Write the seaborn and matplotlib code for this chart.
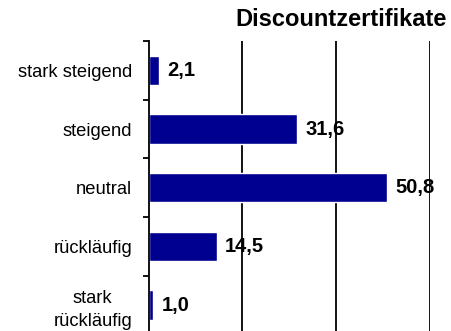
import matplotlib
matplotlib.use("Agg")
import matplotlib.pyplot as plt
import seaborn as sns
import pandas as pd
from matplotlib.ticker import FixedLocator

categories = ["stark steigend", "steigend", "neutral", "rückläufig", "stark\nrückläufig"]
values = [2.1, 31.6, 50.8, 14.5, 1.0]
value_labels = ["2,1", "31,6", "50,8", "14,5", "1,0"]
title = "Discountzertifikate"

sns.set_theme(style="white")
plt.rcParams["font.family"] = ["Liberation Sans", "DejaVu Sans"]

df = pd.DataFrame({"Kategorie": categories, "Wert": values})

fig = plt.figure(figsize=(4.52, 3.31), dpi=100)
W, H = 452, 331
left, right, top, bottom = 148.7, 430, 41, 334.5
ax = fig.add_axes([left / W, 1 - bottom / H, (right - left) / W, (bottom - top) / H])

sns.barplot(data=df, x="Wert", y="Kategorie", color="#000090", width=0.5,
            saturation=1, ax=ax, orient="h")

ax.set_xlim(0, 60)
ax.set_ylim(4.5, -0.5)
ax.set_xlabel("")
ax.set_ylabel("")
ax.set_xticks([20, 40, 60])
ax.set_xticklabels([])
ax.tick_params(axis="x", length=0)
ax.grid(axis="x", color="black", linewidth=1.3)
ax.grid(axis="y", visible=False)
ax.set_axisbelow(True)

for s in ["top", "right", "bottom"]:
    ax.spines[s].set_visible(False)
ax.spines["left"].set_color("black")
ax.spines["left"].set_linewidth(1.3)

# category separators as minor ticks on the value axis
ax.yaxis.set_minor_locator(FixedLocator([-0.5, 0.5, 1.5, 2.5, 3.5, 4.5]))
ax.tick_params(axis="y", which="major", length=0, pad=12, labelsize=13.2, labelcolor="black")
ax.tick_params(axis="y", which="minor", length=4, width=1.3, color="black", left=True)
for lbl in ax.get_yticklabels():
    lbl.set_multialignment("center")
    lbl.set_linespacing(1.45)

for i, (v, t) in enumerate(zip(values, value_labels)):
    ax.annotate(t, xy=(v, i), xytext=(6, 0), textcoords="offset points",
                ha="left", va="center", fontsize=14.5, fontweight="bold", color="black")

fig.text(447 / W, 1 - 20 / H, title, ha="right", va="center",
         fontsize=17, fontweight="bold", color="black")

fig.savefig("out.png", dpi=100)
